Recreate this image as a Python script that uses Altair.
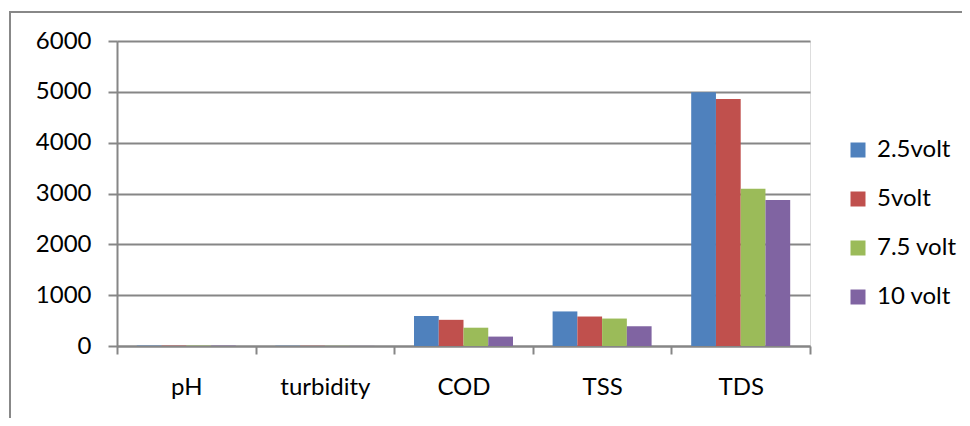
import altair as alt
import pandas as pd

categories = ["pH", "turbidity", "COD", "TSS", "TDS"]
series = ["2.5volt", "5volt", "7.5 volt", "10 volt"]
v_2_5 = [7.2, 5, 590, 680, 4990]
v_5 = [7.0, 4, 515, 580, 4860]
v_7_5 = [6.9, 3, 360, 540, 3095]
v_10 = [6.8, 2, 185, 390, 2870]
colors = ["#4F81BD", "#C0504D", "#9BBB59", "#8064A2"]

rows = []
for s, vals in zip(series, [v_2_5, v_5, v_7_5, v_10]):
    for c, v in zip(categories, vals):
        rows.append({"category": c, "series": s, "value": v})
df = pd.DataFrame(rows)

FONT = "Lato"
FS = 24

bars = alt.Chart(df).mark_bar().encode(
    x=alt.X("category:N", sort=categories, title=None,
            scale=alt.Scale(paddingInner=0, paddingOuter=0),
            axis=alt.Axis(labelAngle=0, tickBand="extent", tickSize=8, tickWidth=2,
                          tickColor="#868686", domainColor="#868686", domainWidth=2,
                          labelPadding=21, labelFontSize=FS, labelFont=FONT,
                          labelColor="#000000", grid=False)),
    xOffset=alt.XOffset("series:N", sort=series,
                        scale=alt.Scale(paddingInner=0, paddingOuter=0.8)),
    y=alt.Y("value:Q", title=None,
            scale=alt.Scale(domain=[0, 6000], nice=False),
            axis=alt.Axis(values=[0, 1000, 2000, 3000, 4000, 5000, 6000], format="d",
                          tickSize=9, tickWidth=2, tickColor="#868686",
                          domainColor="#868686", domainWidth=2,
                          gridColor="#868686", gridWidth=2,
                          labelPadding=17, labelFontSize=FS, labelFont=FONT,
                          labelColor="#000000")),
    color=alt.Color("series:N", sort=series,
                    scale=alt.Scale(domain=series, range=colors),
                    legend=alt.Legend(title=None, orient="none", legendX=729, legendY=97,
                                      symbolType="square", symbolSize=225,
                                      symbolStrokeWidth=0, labelFontSize=FS,
                                      labelFont=FONT, labelColor="#000000",
                                      labelOffset=7, rowPadding=25)),
)

frame_df = pd.DataFrame({"k": [0]})
frame_left = alt.Chart(frame_df).mark_rule(color="#888888", strokeWidth=2, clip=False).encode(
    x=alt.value(-107), y=alt.value(-29), y2=alt.value(400))
frame_top = alt.Chart(frame_df).mark_rule(color="#888888", strokeWidth=2, clip=False).encode(
    x=alt.value(-108), x2=alt.value(860), y=alt.value(-29))

chart = alt.layer(bars, frame_left, frame_top).properties(
    width=693, height=305,
    autosize=alt.AutoSizeParams(type="none"),
    padding={"left": 109, "top": 33, "right": 152, "bottom": 72},
).configure_view(stroke=None).configure(background="white")

chart.save("out.html", embed_options={"renderer": "svg", "actions": False})
